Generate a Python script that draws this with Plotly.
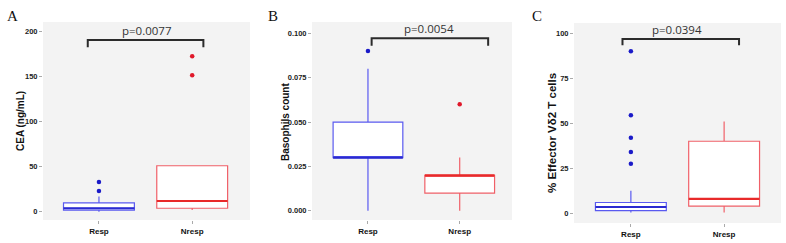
import plotly.graph_objects as go

W, H = 786, 243

categories = ["Resp", "Nresp"]
positions = [0, 1]

# Panel A: CEA (ng/mL)
a_q1 = [2, 4]
a_med = [4, 12]
a_q3 = [10, 51]
a_lo = [0, 2]
a_hi = [17, 51]
a_out = [[23, 33], [151, 172]]

# Panel B: Basophils count
b_q1 = [0.03, 0.01]
b_med = [0.03, 0.02]
b_q3 = [0.05, 0.02]
b_lo = [0.0, 0.0]
b_hi = [0.08, 0.03]
b_out = [[0.09], [0.06]]

# Panel C: % Effector Vδ2 T cells
c_q1 = [1.5, 4]
c_med = [3.5, 8]
c_q3 = [6, 40]
c_lo = [0.5, 0.5]
c_hi = [12.5, 51]
c_out = [[27.5, 34, 42, 54.5, 90], []]

panels = [
    dict(letter="A", title="CEA (ng/mL)", q1=a_q1, med=a_med, q3=a_q3, lo=a_lo, hi=a_hi, out=a_out,
         pval="p=0.0077", br_x=[-0.12, 1.12], br_top=190, br_leg=182, txt_x=0.52,
         ticks=[0, 50, 100, 150, 200], ticktext=["0", "50", "100", "150", "200"],
         yrange=[-9, 210], xrange=[-0.60, 1.62],
         xdom=[43, 250], ydom=[22, 220], letter_x=5, title_x=20, title_y=121, title_size=10),
    dict(letter="B", title="Basophils count", q1=b_q1, med=b_med, q3=b_q3, lo=b_lo, hi=b_hi, out=b_out,
         pval="p=0.0054", br_x=[0.04, 1.31], br_top=0.0972, br_leg=0.093, txt_x=0.67,
         ticks=[0, 0.025, 0.05, 0.075, 0.1], ticktext=["0.000", "0.025", "0.050", "0.075", "0.100"],
         yrange=[-0.0052, 0.1064], xrange=[-0.61, 1.57],
         xdom=[312, 512], ydom=[22, 220], letter_x=266, title_x=285, title_y=122, title_size=10),
    dict(letter="C", title="% Effector Vδ2 T cells", q1=c_q1, med=c_med, q3=c_q3, lo=c_lo, hi=c_hi, out=c_out,
         pval="p=0.0394", br_x=[-0.09, 1.16], br_top=96.8, br_leg=93.3, txt_x=0.49,
         ticks=[0, 25, 50, 75, 100], ticktext=["0", "25", "50", "75", "100"],
         yrange=[-5.4, 105.7], xrange=[-0.61, 1.61],
         xdom=[574, 781], ydom=[23, 223], letter_x=530, title_x=552, title_y=133, title_size=11.5),
]

box_line = ["#5a5af0", "#f06068"]
med_col = ["#2a2ad0", "#e82a2a"]
pt_col = ["#1a1ac8", "#e0182a"]
box_w = 0.76

fig = go.Figure()
annotations = []
layout = {}

for k, p in enumerate(panels):
    ax = "" if k == 0 else str(k + 1)
    xa, ya = "x" + ax, "y" + ax
    for i, pos in enumerate(positions):
        fig.add_trace(go.Box(
            x=[pos], q1=[p["q1"][i]], median=[p["med"][i]], q3=[p["q3"][i]],
            lowerfence=[p["lo"][i]], upperfence=[p["hi"][i]],
            width=box_w, whiskerwidth=0, fillcolor="white",
            line=dict(color=box_line[i], width=1.2), boxpoints=False,
            xaxis=xa, yaxis=ya, showlegend=False, hoverinfo="skip"))
        fig.add_trace(go.Scatter(
            x=[pos - box_w / 2, pos + box_w / 2], y=[p["med"][i], p["med"][i]],
            mode="lines", line=dict(color=med_col[i], width=2.2),
            xaxis=xa, yaxis=ya, showlegend=False, hoverinfo="skip"))
        if p["out"][i]:
            fig.add_trace(go.Scatter(
                x=[pos] * len(p["out"][i]), y=p["out"][i], mode="markers",
                marker=dict(color=pt_col[i], size=4.5),
                xaxis=xa, yaxis=ya, showlegend=False, hoverinfo="skip"))
    # significance bracket
    bx = p["br_x"]
    fig.add_trace(go.Scatter(
        x=[bx[0], bx[0], bx[1], bx[1]], y=[p["br_leg"], p["br_top"], p["br_top"], p["br_leg"]],
        mode="lines", line=dict(color="#2b2b2b", width=2),
        xaxis=xa, yaxis=ya, showlegend=False, hoverinfo="skip"))
    annotations.append(dict(
        x=p["txt_x"], y=p["br_top"], xref=xa, yref=ya, text=p["pval"], showarrow=False,
        yanchor="bottom", yshift=0, font=dict(family="Open Sans", size=11.5, color="#333333")))
    annotations.append(dict(
        x=p["letter_x"] / W, y=1 - 6 / H, xref="paper", yref="paper", text=p["letter"],
        showarrow=False, xanchor="left", yanchor="top",
        font=dict(family="Liberation Serif", size=15, color="#111111")))
    annotations.append(dict(
        x=p["title_x"] / W, y=1 - p["title_y"] / H, xref="paper", yref="paper",
        xanchor="center", yanchor="middle",
        text="<b>" + p["title"] + "</b>", textangle=-90, showarrow=False,
        font=dict(family="Liberation Sans", size=p["title_size"], color="#111111")))
    layout["xaxis" + ax] = dict(
        domain=[p["xdom"][0] / W, p["xdom"][1] / W], range=p["xrange"], anchor=ya,
        tickvals=positions, ticktext=["<b>" + c + "</b>" for c in categories],
        ticks="outside", ticklen=3, tickcolor="#aaaaaa", showgrid=False, zeroline=False,
        showline=False, tickfont=dict(family="Liberation Sans", size=8, color="#111111"))
    layout["yaxis" + ax] = dict(
        domain=[1 - p["ydom"][1] / H, 1 - p["ydom"][0] / H], range=p["yrange"], anchor=xa,
        tickvals=p["ticks"], ticktext=["<b>" + t + "</b>" for t in p["ticktext"]],
        ticks="outside", ticklen=3, tickcolor="#aaaaaa", showgrid=False, zeroline=False,
        showline=False, tickfont=dict(family="Liberation Sans", size=7.5, color="#222222"))

fig.update_layout(
    width=W, height=H, margin=dict(l=0, r=0, t=0, b=0),
    paper_bgcolor="white", plot_bgcolor="#f3f3f3",
    annotations=annotations, **layout)

fig.write_html("out.html", config={"displayModeBar": False},
               post_script="document.body.style.margin='0';document.body.style.padding='0';")
